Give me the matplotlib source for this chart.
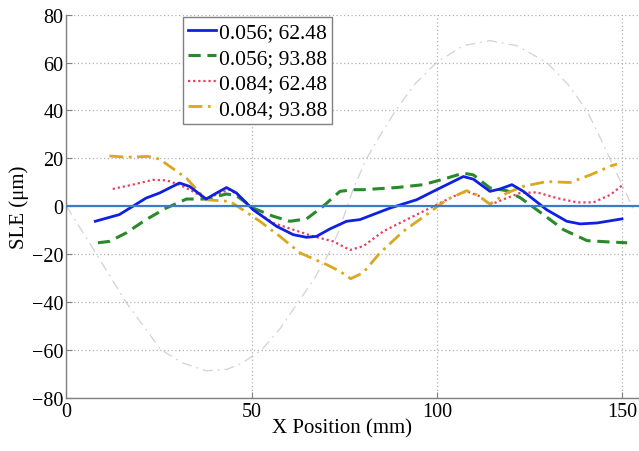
import matplotlib
matplotlib.use("Agg")
import matplotlib.pyplot as plt

plt.rcParams['font.family'] = ['Liberation Serif', 'DejaVu Serif']

# ---- data ----
blue_x = [7.8, 14.3, 21.5, 25.1, 30.5, 33.2, 37.7, 40.5, 43.2, 45.9, 50.4, 56.7, 61.2, 64.8,
          67.5, 71.1, 75.6, 79.2, 87.3, 94.5, 99.9, 107.1, 109.8, 114.3, 117.0, 120.2, 123.3,
          129.6, 135.0, 138.6, 143.2, 149.9]
blue_y = [-6.3, -3.5, 3.4, 5.5, 9.7, 8.3, 3.0, 5.5, 7.8, 5.5, -1.5, -8.4, -11.9, -13.0,
          -12.6, -9.5, -6.3, -5.6, -0.8, 2.7, 6.9, 12.4, 11.3, 6.2, 7.2, 9.0, 6.2,
          -1.5, -6.3, -7.4, -7.0, -5.3]

green_x = [8.5, 11.6, 16.1, 21.5, 26.9, 32.4, 37.7, 40.5, 43.2, 45.9, 50.4, 55.8, 60.3, 64.8,
           69.3, 73.8, 77.4, 80.1, 89.1, 96.3, 101.7, 107.1, 109.8, 114.3, 118.8, 122.6,
           128.7, 134.1, 140.5, 145.9, 151.3]
green_y = [-15.3, -14.7, -11.2, -5.6, -0.8, 3.0, 3.0, 4.1, 5.1, 4.4, -0.8, -4.2, -6.3, -5.3,
           0.0, 6.2, 6.9, 6.9, 7.8, 9.0, 11.3, 13.8, 13.1, 7.6, 6.5, 3.4,
           -3.5, -9.8, -14.4, -14.9, -15.3]

red_x = [12.5, 17.9, 23.3, 27.0, 30.5, 34.1, 37.7, 41.4, 44.1, 46.8, 50.4, 55.8, 61.2, 66.6,
         72.0, 76.5, 80.1, 85.5, 92.7, 99.9, 104.4, 108.0, 111.6, 114.3, 118.8, 122.4, 126.9,
         132.4, 137.8, 142.2, 146.8, 150.2]
red_y = [7.2, 9.0, 11.0, 10.8, 9.0, 6.2, 3.0, 5.5, 6.9, 4.1, -1.5, -7.0, -9.8, -12.6,
         -14.7, -18.3, -16.7, -10.5, -4.9, 0.6, 4.1, 6.2, 4.1, 0.6, 3.4, 5.5, 5.8,
         3.4, 1.6, 1.6, 4.8, 9.0]

yellow_x = [11.6, 16.1, 22.0, 25.1, 32.4, 36.0, 37.7, 41.4, 44.1, 47.6, 52.2, 57.6, 63.0, 70.2,
            73.8, 76.7, 80.1, 84.6, 90.9, 97.2, 102.6, 108.0, 110.7, 114.3, 118.8, 123.3,
            129.6, 135.9, 141.4, 147.2, 148.6]
yellow_y = [21.0, 20.5, 20.8, 19.7, 11.7, 5.5, 2.7, 2.3, 2.0, -1.5, -6.3, -12.6, -19.5, -24.4,
            -27.2, -30.3, -27.8, -19.5, -10.5, -3.5, 2.7, 6.5, 4.8, 0.9, 5.5, 8.3,
            10.3, 9.9, 13.1, 17.0, 17.6]

gray_x = [0, 7.3, 16.1, 25.5, 31.5, 37.8, 43.3, 47.5, 52.7, 57.5, 62.6, 66.8, 70.7, 73.5,
          75.8, 77.4, 80.9, 85.0, 89.1, 94.0, 99.9, 107.1, 114.3, 121.5, 129.6, 135.3,
          140.4, 143.6, 146.7, 152.1, 153.5]
gray_y = [0, -18.0, -40.2, -60.0, -65.6, -68.8, -68.2, -65.5, -60.0, -51.5, -40.0, -30.5,
          -20.0, -10.5, 0.0, 7.2, 19.7, 30.5, 40.6, 51.0, 60.1, 67.1, 69.2, 67.1, 60.1, 51.0,
          40.0, 30.0, 19.7, 1.8, -3.0]

labels = ['0.056; 62.48', '0.056; 93.88', '0.084; 62.48', '0.084; 93.88']
x_ticks = [0, 50, 100, 150]
y_ticks = [-80, -60, -40, -20, 0, 20, 40, 60, 80]

# ---- figure ----
fig = plt.figure(figsize=(6.39, 4.52), dpi=100)
ax = fig.add_axes([66.4 / 639, 1 - 398.6 / 452, 1 - 66.4 / 639, (398.6 - 15.8) / 452])

ax.plot(gray_x, gray_y, color='#d2d2d2', lw=0.9, ls=(0, (8, 4, 1.5, 4)), zorder=1)
ax.axhline(0, color='#3f7bc4', lw=1.6, zorder=5)

l1, = ax.plot(blue_x, blue_y, color='#1020e0', lw=2.0, ls='-', zorder=4)
l2, = ax.plot(green_x, green_y, color='#2a8a2a', lw=2.2, ls=(0, (4, 2.2)), zorder=3)
l3, = ax.plot(red_x, red_y, color='#e8405a', lw=1.6, ls=(0, (1, 1.3)), zorder=3)
l4, = ax.plot(yellow_x, yellow_y, color='#d9a820', lw=2.0, ls=(0, (5, 2, 1, 2)), zorder=3)

ax.set_xlim(0, 154.5)
ax.set_ylim(-80, 80)
ax.set_xticks(x_ticks)
ax.set_yticks(y_ticks)
ax.tick_params(direction='in', labelsize=14.5, length=4, color='#808080', pad=2)
ax.tick_params(axis='x', pad=3)
ax.grid(True, color='#b0b0b0', ls=(0, (1, 2)), lw=0.9)
for s in ['top', 'right']:
    ax.spines[s].set_visible(False)
for s in ['left', 'bottom']:
    ax.spines[s].set_color('#808080')
    ax.spines[s].set_linewidth(1.0)

ax.set_xlabel('X Position (mm)', fontsize=15)
ax.xaxis.set_label_coords(0.482, -0.055, transform=ax.transAxes)
ax.xaxis.label.set_va('top')
ax.set_ylabel('SLE (\u03bcm)', fontsize=15, labelpad=2)

leg = ax.legend([l1, l2, l3, l4], labels, loc='upper left',
                bbox_to_anchor=(0.2036, 0.994), borderaxespad=0,
                fontsize=15.5, handlelength=1.3, handletextpad=0.1,
                labelspacing=0.25, borderpad=0.25, fancybox=False,
                framealpha=1, edgecolor='#808080')
leg.get_frame().set_linewidth(1.0)
leg.set_zorder(10)

fig.savefig('out.png', dpi=100)
